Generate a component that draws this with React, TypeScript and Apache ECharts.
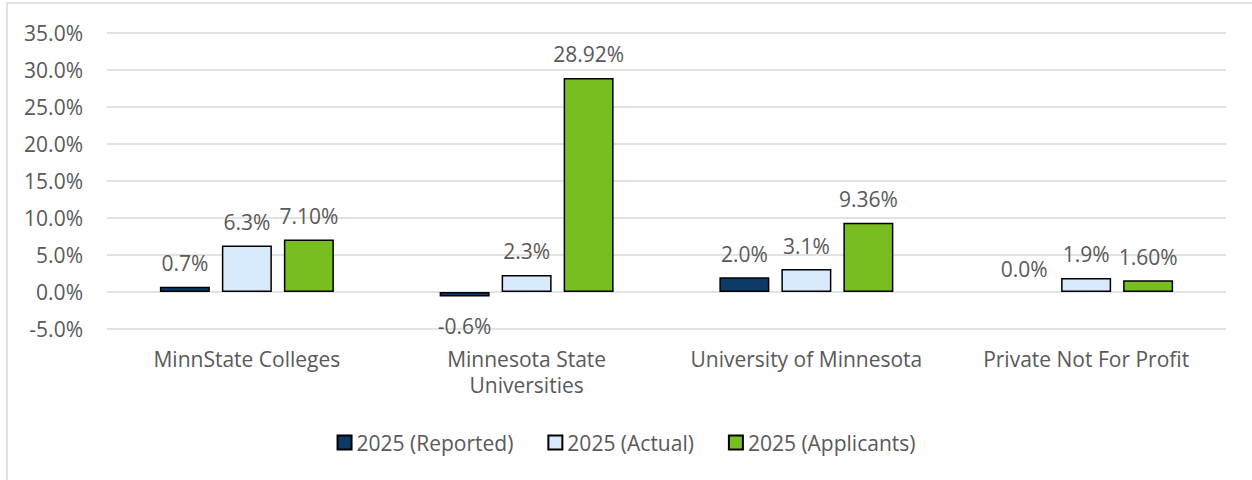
import React, { useEffect, useRef } from "react";
import * as echarts from "echarts";

const categories = [
  "MinnState Colleges",
  "Minnesota State\nUniversities",
  "University of Minnesota",
  "Private Not For Profit",
];
const seriesNames = ["2025 (Reported)", "2025 (Actual)", "2025 (Applicants)"];
const reported = [0.7, -0.6, 2.0, 0.0];
const actual = [6.3, 2.3, 3.1, 1.9];
const applicants = [7.1, 28.92, 9.36, 1.6];
const decimals = [1, 1, 2];
const colors = ["#0b3a66", "#d7eafb", "#78be21"];
const yMin = -5;
const yMax = 35;
const yStep = 5;

const FONT = "Open Sans";
const TEXT = "#595959";
const FS = 21;

export default function App() {
  const ref = useRef<HTMLDivElement>(null);
  useEffect(() => {
    if (!ref.current) return;
    const chart = echarts.init(ref.current, undefined, { renderer: "svg" });
    const all = [reported, actual, applicants];
    const series = all.map((vals, si) => ({
      name: seriesNames[si],
      type: "bar",
      barWidth: 50,
      barGap: "24%",
      itemStyle: { color: colors[si], borderColor: "#000", borderWidth: 1.5 },
      label: {
        show: true,
        position: "top",
        distance: 13,
        fontFamily: FONT,
        fontSize: FS,
        color: TEXT,
        formatter: (p: any) => Number(p.value).toFixed(decimals[si]) + "%",
      },
      data: vals.map((v) => {
        if (v < 0) return { value: v, label: { position: "bottom", distance: 19 } };
        if (v === 0) return { value: v, itemStyle: { borderWidth: 0 } };
        return v;
      }),
    }));
    chart.setOption({
      animation: false,
      backgroundColor: "#fff",
      textStyle: { fontFamily: FONT },
      graphic: [
        {
          type: "rect",
          shape: { x: 7, y: 3, width: 1300, height: 520 },
          style: { fill: "none", stroke: "#d9d9d9", lineWidth: 1.5 },
          silent: true,
        },
      ],
      grid: { left: 107, right: 26, top: 33, bottom: 151 },
      legend: {
        top: 427,
        left: "center",
        icon: "rect",
        itemWidth: 14,
        itemHeight: 14,
        itemGap: 34,
        textStyle: { fontFamily: FONT, fontSize: FS, color: TEXT },
        data: seriesNames,
      },
      xAxis: {
        type: "category",
        data: categories,
        axisLine: { show: false, onZero: false },
        axisTick: { show: false },
        axisLabel: {
          fontFamily: FONT,
          fontSize: FS,
          color: TEXT,
          margin: 17,
          lineHeight: 26,
          interval: 0,
        },
      },
      yAxis: {
        type: "value",
        min: yMin,
        max: yMax,
        interval: yStep,
        axisLine: { show: false },
        axisTick: { show: false },
        splitLine: { lineStyle: { color: "#d9d9d9", width: 1.5 } },
        axisLabel: {
          fontFamily: FONT,
          fontSize: FS,
          color: TEXT,
          margin: 24,
          formatter: (v: number) => v.toFixed(1) + "%",
        },
      },
      series,
    });
    return () => chart.dispose();
  }, []);
  return (
    <div
      ref={ref}
      style={{ position: "absolute", left: 0, top: 0, width: 1252, height: 480 }}
    />
  );
}
